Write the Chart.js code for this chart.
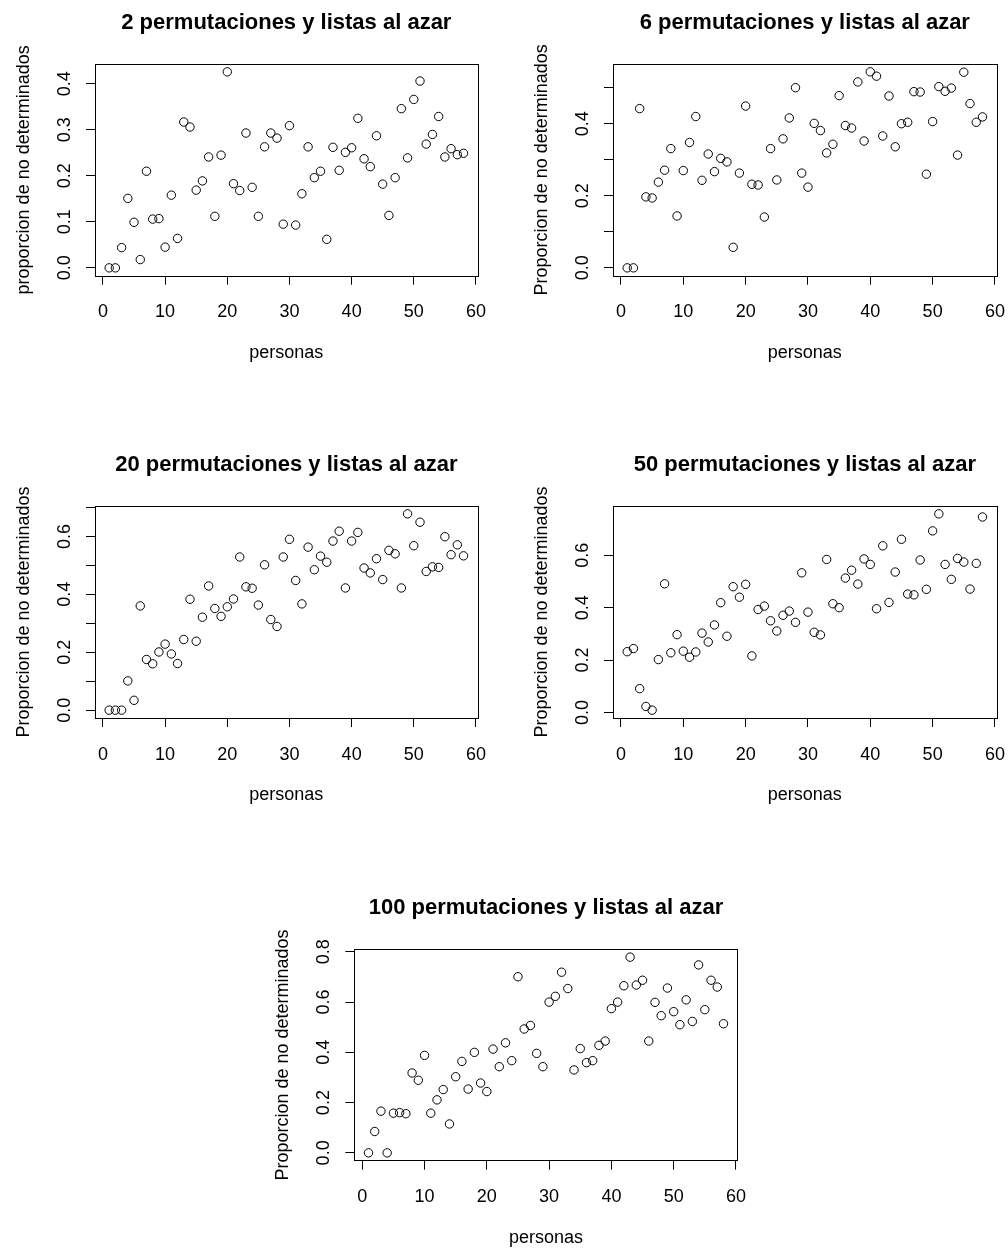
<!DOCTYPE html>
<html>
<head>
<meta charset="utf-8">
<script src="https://cdn.jsdelivr.net/npm/chart.js@4"></script>
<style>
  body { margin: 0; background: #fff; }
  #wrap { position: relative; width: 1008px; height: 1250px; }
  #wrap canvas { position: absolute; left: 0; top: 0; }
</style>
</head>
<body>
<div id="wrap"></div>
<script>
// x values: number of people
const personas = [1,2,3,4,5,6,7,8,9,10,11,12,13,14,15,16,17,18,19,20,21,22,23,24,25,26,27,28,29,30,
  31,32,33,34,35,36,37,38,39,40,41,42,43,44,45,46,47,48,49,50,51,52,53,54,55,56,57,58];

// proportion of undetermined, one array per permutation count
const perm2 = [0,0,0.044,0.151,0.099,0.018,0.210,0.106,0.107,0.045,
  0.158,0.064,0.317,0.306,0.169,0.189,0.241,0.112,0.245,0.426,
  0.183,0.168,0.293,0.175,0.112,0.263,0.293,0.282,0.095,0.309,
  0.093,0.161,0.263,0.196,0.210,0.062,0.262,0.212,0.251,0.261,
  0.325,0.237,0.220,0.287,0.182,0.114,0.196,0.346,0.239,0.366,
  0.406,0.269,0.290,0.329,0.241,0.259,0.246,0.249];
const perm6 = [0,0,0.442,0.197,0.194,0.238,0.271,0.331,0.144,0.270,
  0.348,0.420,0.243,0.316,0.267,0.304,0.294,0.057,0.263,0.449,
  0.232,0.230,0.141,0.331,0.244,0.358,0.416,0.500,0.263,0.224,
  0.401,0.381,0.319,0.343,0.478,0.395,0.388,0.516,0.352,0.544,
  0.532,0.366,0.477,0.336,0.400,0.404,0.489,0.488,0.260,0.406,
  0.503,0.490,0.499,0.313,0.543,0.456,0.404,0.419];
const perm20 = [0,0,0,0.101,0.034,0.360,0.175,0.160,0.201,0.228,
  0.194,0.161,0.244,0.383,0.238,0.321,0.429,0.351,0.324,0.357,
  0.384,0.529,0.426,0.421,0.363,0.502,0.313,0.289,0.529,0.590,
  0.448,0.367,0.563,0.485,0.532,0.511,0.584,0.618,0.422,0.584,
  0.614,0.491,0.474,0.523,0.451,0.552,0.540,0.422,0.678,0.568,
  0.649,0.479,0.495,0.493,0.599,0.537,0.571,0.533];
const perm50 = [0.232,0.244,0.091,0.023,0.009,0.202,0.491,0.228,0.297,0.234,
  0.211,0.231,0.303,0.269,0.334,0.419,0.291,0.480,0.440,0.489,
  0.216,0.393,0.406,0.350,0.311,0.371,0.387,0.344,0.533,0.383,
  0.306,0.296,0.584,0.415,0.400,0.513,0.543,0.490,0.586,0.565,
  0.396,0.636,0.420,0.536,0.661,0.452,0.449,0.582,0.470,0.693,
  0.758,0.565,0.508,0.588,0.574,0.471,0.569,0.746];
const perm100 = [0,0.085,0.166,0,0.158,0.160,0.156,0.318,0.289,0.388,
  0.158,0.211,0.252,0.115,0.303,0.364,0.254,0.400,0.278,0.244,
  0.413,0.343,0.438,0.367,0.701,0.493,0.507,0.396,0.343,0.600,
  0.623,0.719,0.654,0.330,0.415,0.359,0.367,0.428,0.445,0.574,
  0.600,0.665,0.779,0.668,0.687,0.445,0.599,0.546,0.656,0.562,
  0.510,0.609,0.523,0.748,0.570,0.687,0.660,0.514];

// tick values and labels
const xTicks = [0,10,20,30,40,50,60];
const xTickLabels = ['0','10','20','30','40','50','60'];
const yTicks2 = [0,0.1,0.2,0.3,0.4];
const yLabels2 = ['0.0','0.1','0.2','0.3','0.4'];
const yTicks6 = [0,0.1,0.2,0.3,0.4,0.5];
const yLabels6 = ['0.0','','0.2','','0.4',''];
const yTicks20 = [0,0.1,0.2,0.3,0.4,0.5,0.6,0.7];
const yLabels20 = ['0.0','','0.2','','0.4','','0.6',''];
const yTicks50 = [0,0.2,0.4,0.6];
const yLabels50 = ['0.0','0.2','0.4','0.6'];
const yTicks100 = [0,0.2,0.4,0.6,0.8];
const yLabels100 = ['0.0','0.2','0.4','0.6','0.8'];

const W = 1008, H = 1250;
const FONT = '"Liberation Sans", Arial, Helvetica, sans-serif';

// R-like frame, titles and rotated labels
const rText = {
  id: 'rText',
  afterDraw(chart, args, o) {
    const ctx = chart.ctx, a = chart.chartArea;
    const xs = chart.scales.x, ys = chart.scales.y;
    ctx.save();
    ctx.strokeStyle = '#000';
    ctx.lineWidth = 1;
    ctx.strokeRect(Math.round(a.left) + 0.5, Math.round(a.top) + 0.5,
      Math.round(a.right - a.left), Math.round(a.bottom - a.top));
    ctx.fillStyle = '#000';
    ctx.textAlign = 'center';
    ctx.textBaseline = 'alphabetic';
    const cx = (a.left + a.right) / 2, cy = (a.top + a.bottom) / 2;
    ctx.font = 'bold 22px ' + FONT;
    ctx.fillText(o.title, cx, a.top - 35);
    ctx.font = '18px ' + FONT;
    xTicks.forEach((v, i) => ctx.fillText(xTickLabels[i], xs.getPixelForValue(v), a.bottom + 41.5));
    ctx.fillText('personas', cx, a.bottom + 82);
    o.yTicks.forEach((v, i) => {
      if (!o.yLabels[i]) return;
      ctx.save();
      ctx.translate(a.left - 25, ys.getPixelForValue(v));
      ctx.rotate(-Math.PI / 2);
      ctx.fillText(o.yLabels[i], 0, 0);
      ctx.restore();
    });
    ctx.save();
    ctx.translate(a.left - 66, cy);
    ctx.rotate(-Math.PI / 2);
    ctx.fillText(o.yTitle, 0, 0);
    ctx.restore();
    ctx.restore();
  }
};

function panel(box, values, yTicks, yLabels, title, yTitle) {
  const canvas = document.createElement('canvas');
  canvas.width = W; canvas.height = H;
  document.getElementById('wrap').appendChild(canvas);
  // R default: data range extended by 4%
  const lo = Math.min(...values), hi = Math.max(...values);
  const ext = (hi - lo) * 0.04;
  const grid = { drawOnChartArea: false, drawTicks: true, tickLength: 9, color: '#000', lineWidth: 1 };
  return new Chart(canvas, {
    type: 'scatter',
    data: {
      datasets: [{
        data: personas.map((p, i) => ({ x: p, y: values[i] })),
        pointStyle: 'circle',
        pointRadius: 4.2,
        borderWidth: 1,
        borderColor: '#000',
        backgroundColor: 'rgba(0,0,0,0)'
      }]
    },
    options: {
      responsive: false,
      animation: false,
      devicePixelRatio: 1,
      events: [],
      layout: { padding: { left: box.l - 10, top: box.t, right: W - box.r, bottom: H - box.b - 10 } },
      plugins: { legend: { display: false }, tooltip: { enabled: false },
        rText: { title: title, yTitle: yTitle, yTicks: yTicks, yLabels: yLabels } },
      scales: {
        x: {
          type: 'linear', min: 1 - 57 * 0.04, max: 58 + 57 * 0.04,
          afterBuildTicks: s => { s.ticks = xTicks.map(v => ({ value: v })); },
          afterFit: s => { s.height = 10; s.paddingLeft = 0; s.paddingRight = 0; },
          grid: grid, border: { display: false },
          ticks: { color: 'rgba(0,0,0,0)' }
        },
        y: {
          type: 'linear', min: lo - ext, max: hi + ext,
          afterBuildTicks: s => { s.ticks = yTicks.map(v => ({ value: v })); },
          afterFit: s => { s.width = 10; s.paddingTop = 0; s.paddingBottom = 0; },
          grid: grid, border: { display: false },
          ticks: { color: 'rgba(0,0,0,0)' }
        }
      }
    },
    plugins: [rText]
  });
}

panel({ l: 95, t: 64, r: 477.7, b: 275.7 }, perm2, yTicks2, yLabels2,
  '2 permutaciones y listas al azar', 'proporcion de no determinados');
panel({ l: 613, t: 64, r: 996.7, b: 275.7 }, perm6, yTicks6, yLabels6,
  '6 permutaciones y listas al azar', 'Proporcion de no determinados');
panel({ l: 95, t: 506, r: 477.7, b: 718 }, perm20, yTicks20, yLabels20,
  '20 permutaciones y listas al azar', 'Proporcion de no determinados');
panel({ l: 613, t: 506, r: 996.7, b: 718 }, perm50, yTicks50, yLabels50,
  '50 permutaciones y listas al azar', 'Proporcion de no determinados');
panel({ l: 354.3, t: 949.3, r: 737.7, b: 1160.7 }, perm100, yTicks100, yLabels100,
  '100 permutaciones y listas al azar', 'Proporcion de no determinados');
</script>
</body>
</html>
